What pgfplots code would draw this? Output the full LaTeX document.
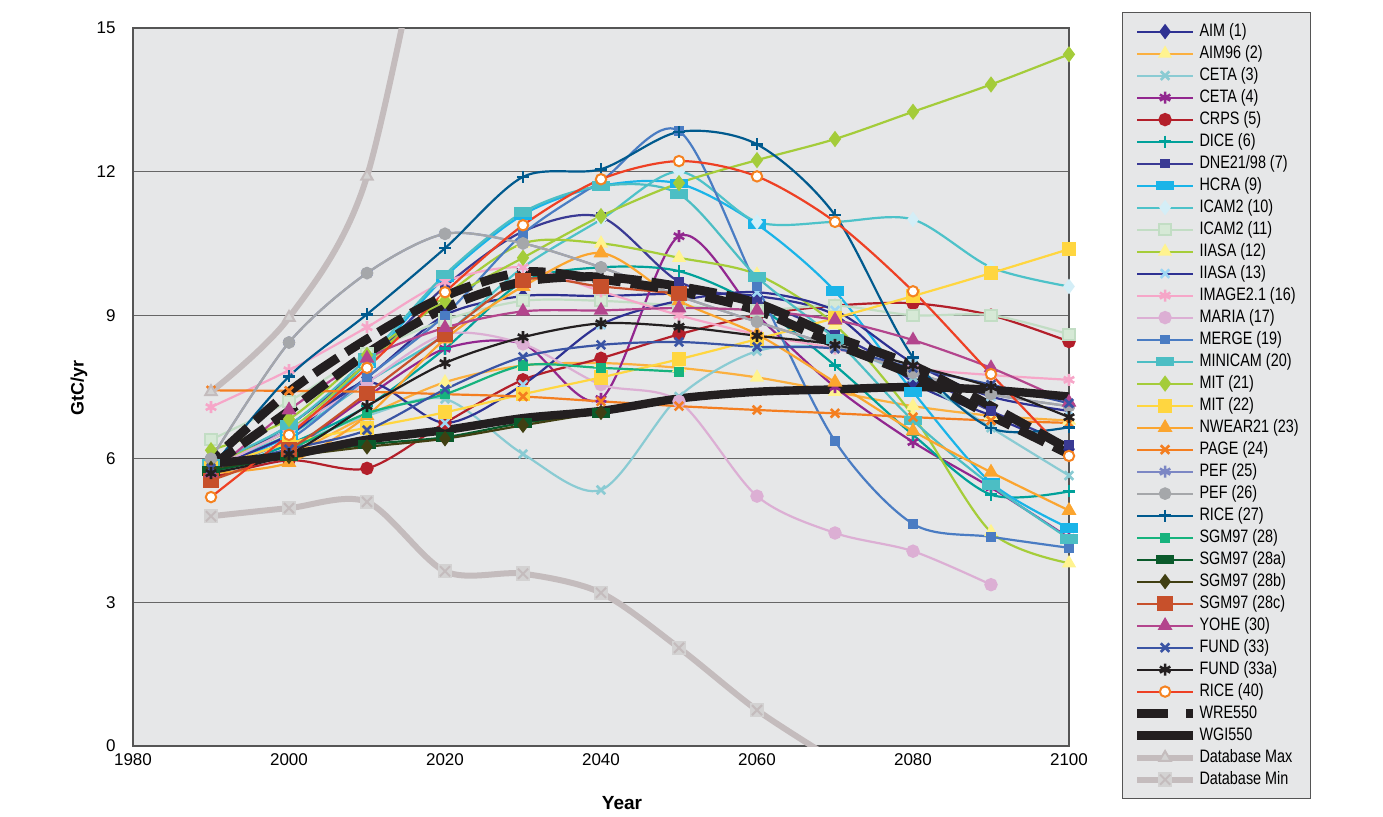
\documentclass[border=0pt]{standalone}
\usepackage{pgfplots}
\pgfplotsset{compat=1.18}
\usepackage{fontspec}
\setmainfont{Liberation Sans}
\newfontfamily\narrowfont[FakeStretch=0.8]{Liberation Sans}
\usetikzlibrary{plotmarks}

\definecolor{bgc}{HTML}{E6E7E8}
\definecolor{gridc}{HTML}{666666}
\definecolor{axc}{HTML}{555555}
\definecolor{cAIM}{HTML}{2E3192}
\definecolor{cAIM96}{HTML}{FBB040}
\definecolor{cPaleY}{HTML}{FFF38F}
\definecolor{cCETAa}{HTML}{8ACBD3}
\definecolor{cCETAb}{HTML}{92278F}
\definecolor{cCRPS}{HTML}{B31F2A}
\definecolor{cDICE}{HTML}{00A19A}
\definecolor{cDNE}{HTML}{3A3A94}
\definecolor{cHCRA}{HTML}{1AB4E8}
\definecolor{cICAMa}{HTML}{4DC2C9}
\definecolor{cICAMam}{HTML}{D4EEF7}
\definecolor{cICAMb}{HTML}{C2DDC4}
\definecolor{cICAMbm}{HTML}{D6E9D6}
\definecolor{cIIASAa}{HTML}{A5CD39}
\definecolor{cIIASAb}{HTML}{2E3192}
\definecolor{cIIASAbm}{HTML}{9DD6F4}
\definecolor{cIMAGE}{HTML}{F6A6C8}
\definecolor{cMARIA}{HTML}{DCAFD4}
\definecolor{cMERGE}{HTML}{4A7CC3}
\definecolor{cMINICAM}{HTML}{4CBEC4}
\definecolor{cMITa}{HTML}{A4CC3A}
\definecolor{cMITb}{HTML}{FFD640}
\definecolor{cNWEAR}{HTML}{FBA52F}
\definecolor{cPAGE}{HTML}{F47E20}
\definecolor{cPEFa}{HTML}{7C87C4}
\definecolor{cPEFb}{HTML}{A5A7AA}
\definecolor{cRICEa}{HTML}{005A8E}
\definecolor{cSGM}{HTML}{16B37D}
\definecolor{cSGMa}{HTML}{0A5A2B}
\definecolor{cSGMb}{HTML}{403F12}
\definecolor{cSGMc}{HTML}{C7502B}
\definecolor{cYOHE}{HTML}{B3458D}
\definecolor{cFUND}{HTML}{3A54A4}
\definecolor{cFUNDa}{HTML}{231F20}
\definecolor{cRICEb}{HTML}{EE4024}
\definecolor{cRICEbm}{HTML}{F58220}
\definecolor{cDB}{HTML}{C4BCBD}
\definecolor{cDBm}{HTML}{D3D2D2}

\pgfdeclareplotmark{sqx}{%
  \pgfpathrectangle{\pgfqpoint{-\pgfplotmarksize}{-\pgfplotmarksize}}{\pgfqpoint{2\pgfplotmarksize}{2\pgfplotmarksize}}%
  \pgfusepathqfill
  \pgfpathmoveto{\pgfqpoint{-.7\pgfplotmarksize}{-.7\pgfplotmarksize}}%
  \pgfpathlineto{\pgfqpoint{.7\pgfplotmarksize}{.7\pgfplotmarksize}}%
  \pgfpathmoveto{\pgfqpoint{-.7\pgfplotmarksize}{.7\pgfplotmarksize}}%
  \pgfpathlineto{\pgfqpoint{.7\pgfplotmarksize}{-.7\pgfplotmarksize}}%
  \pgfusepathqstroke}

\begin{document}
\begin{tikzpicture}
\path[use as bounding box] (0pt,0pt) rectangle (691.5pt,408pt);
\begin{axis}[
  at={(66.5pt,35pt)}, anchor=south west,
  width=468pt, height=359pt, scale only axis,
  xmin=1980, xmax=2100, ymin=0, ymax=15,
  xtick={1980,2000,...,2100}, ytick={0,3,...,15},
  /pgf/number format/assume math mode=true,
  xticklabel style={/pgf/number format/1000 sep={}, font=\fontsize{8.5}{10}\selectfont, anchor=north, inner sep=0pt, yshift=-3.5pt},
  yticklabel style={font=\fontsize{8.5}{10}\selectfont, anchor=east, inner sep=0pt, xshift=-8.5pt},
  major tick length=0pt,
  ymajorgrids, grid style={line width=0.6pt, color=gridc},
  axis background/.style={fill=bgc},
  axis line style={line width=0.7pt, color=axc},
  xlabel={Year}, ylabel={GtC/yr},
  xlabel style={font=\bfseries\fontsize{9.5}{11}\selectfont, at={(axis description cs:0.5224,-0.0794)}, anchor=center},
  ylabel style={font=\bfseries\fontsize{9}{11}\selectfont, at={(axis description cs:-0.0577,0.4986)}, anchor=center, rotate=0},
  every axis plot/.append style={smooth, line width=1.1pt, mark options={solid}},
  legend image code/.code={\draw[mark repeat=2,mark phase=2] plot coordinates {(0pt,0pt) (14pt,0pt) (28pt,0pt)};},
  legend cell align=left,
  legend style={at={(1.0566,1.0223)}, anchor=north west,
    fill=bgc, draw=axc, line width=0.6pt,
    font=\narrowfont\fontsize{9}{10}\selectfont,
    row sep=0pt, inner xsep=5pt, inner ysep=4pt,
    nodes={inner sep=1pt, text height=7pt, text depth=2pt}},
]
\addplot[color=cAIM, mark=diamond*, mark size=3pt] coordinates {(1990,5.9)(2000,6.6)(2010,7.7)(2020,9.0)(2030,9.4)(2040,9.4)(2050,9.45)(2060,9.4)(2070,9.0)(2080,7.6)(2090,6.9)(2100,6.2)};
\addlegendentry{AIM (1)}
\addplot[color=cAIM96, mark=triangle*, mark size=3pt, mark options={fill=cPaleY, draw=cPaleY}] coordinates {(1990,5.8)(2000,6.1)(2010,6.9)(2020,7.6)(2030,7.95)(2040,8.0)(2050,7.9)(2060,7.7)(2070,7.4)(2080,7.1)(2090,6.9)(2100,6.8)};
\addlegendentry{AIM96 (2)}
\addplot[color=cCETAa, mark=x, mark size=3pt, mark options={line width=1.3pt}] coordinates {(1990,6.0)(2000,6.3)(2010,6.9)(2020,7.25)(2030,6.1)(2040,5.35)(2050,7.3)(2060,8.25)(2070,8.3)(2080,7.7)(2090,6.65)(2100,5.65)};
\addlegendentry{CETA (3)}
\addplot[color=cCETAb, mark=asterisk, mark size=3pt, mark options={line width=1.3pt}] coordinates {(1990,5.8)(2000,6.2)(2010,7.3)(2020,8.3)(2030,8.4)(2040,7.25)(2050,10.65)(2060,9.0)(2070,7.5)(2080,6.35)(2090,5.4)(2100,4.35)};
\addlegendentry{CETA (4)}
\addplot[color=cCRPS, mark=*, mark size=2.8pt] coordinates {(1990,5.6)(2000,5.97)(2010,5.8)(2020,6.75)(2030,7.65)(2040,8.1)(2050,8.6)(2060,9.0)(2070,9.2)(2080,9.25)(2090,9.0)(2100,8.45)};
\addlegendentry{CRPS (5)}
\addplot[color=cDICE, mark=+, mark size=3pt, mark options={line width=1.3pt}] coordinates {(1990,5.7)(2000,6.3)(2010,7.1)(2020,8.3)(2030,9.7)(2040,10.0)(2050,9.92)(2060,9.2)(2070,7.95)(2080,6.5)(2090,5.25)(2100,5.32)};
\addlegendentry{DICE (6)}
\addplot[color=cDNE, mark=square*, mark size=1.8pt] coordinates {(1990,5.8)(2000,6.7)(2010,8.0)(2020,9.6)(2030,10.75)(2040,11.05)(2050,9.7)(2060,9.3)(2070,8.6)(2080,7.8)(2090,7.0)(2100,6.3)};
\addlegendentry{DNE21/98 (7)}
\addplot[color=cHCRA, mark=square*, mark size=2.5pt, mark options={xscale=1.5, yscale=0.75}] coordinates {(1990,5.8)(2000,6.5)(2010,8.0)(2020,9.8)(2030,11.1)(2040,11.7)(2050,11.75)(2060,10.9)(2070,9.5)(2080,7.4)(2090,5.5)(2100,4.55)};
\addlegendentry{HCRA (9)}
\addplot[color=cICAMa, mark=diamond*, mark size=3pt, mark options={fill=cICAMam, draw=cICAMam}] coordinates {(1990,5.9)(2000,6.5)(2010,7.6)(2020,8.6)(2030,10.0)(2040,11.0)(2050,12.0)(2060,10.95)(2070,10.95)(2080,11.0)(2090,10.0)(2100,9.6)};
\addlegendentry{ICAM2 (10)}
\addplot[color=cICAMb, mark=square*, mark size=2.8pt, mark options={fill=cICAMbm, draw=cICAMb, line width=1pt}] coordinates {(1990,6.4)(2000,7.2)(2010,8.2)(2020,8.9)(2030,9.3)(2040,9.3)(2050,9.2)(2060,9.1)(2070,9.2)(2080,9.0)(2090,9.0)(2100,8.6)};
\addlegendentry{ICAM2 (11)}
\addplot[color=cIIASAa, mark=triangle*, mark size=3pt, mark options={fill=cPaleY, draw=cPaleY}] coordinates {(1990,5.9)(2000,6.6)(2010,8.0)(2020,9.4)(2030,10.5)(2040,10.5)(2050,10.2)(2060,9.85)(2070,8.8)(2080,6.9)(2090,4.47)(2100,3.82)};
\addlegendentry{IIASA (12)}
\addplot[color=cIIASAb, mark=x, mark size=3pt, mark options={draw=cIIASAbm, line width=1.3pt}] coordinates {(1990,5.8)(2000,6.5)(2010,7.6)(2020,6.75)(2030,7.55)(2040,8.8)(2050,9.3)(2060,9.48)(2070,9.1)(2080,8.0)(2090,7.3)(2100,7.0)};
\addlegendentry{IIASA (13)}
\addplot[color=cIMAGE, mark=asterisk, mark size=3pt, mark options={line width=1.3pt}] coordinates {(1990,7.08)(2000,7.85)(2010,8.75)(2020,9.7)(2030,10.0)(2040,9.5)(2050,9.0)(2060,8.6)(2070,8.3)(2080,7.9)(2090,7.75)(2100,7.65)};
\addlegendentry{IMAGE2.1 (16)}
\addplot[color=cMARIA, mark=*, mark size=2.8pt] coordinates {(1990,5.8)(2000,6.6)(2010,7.6)(2020,8.6)(2030,8.4)(2040,7.55)(2050,7.2)(2060,5.22)(2070,4.45)(2080,4.07)(2090,3.37)};
\addlegendentry{MARIA (17)}
\addplot[color=cMERGE, mark=square*, mark size=1.8pt] coordinates {(1990,5.8)(2000,6.4)(2010,7.7)(2020,9.0)(2030,10.7)(2040,11.8)(2050,12.85)(2060,9.6)(2070,6.37)(2080,4.64)(2090,4.37)(2100,4.14)};
\addlegendentry{MERGE (19)}
\addplot[color=cMINICAM, mark=square*, mark size=2.5pt, mark options={xscale=1.5, yscale=0.75}] coordinates {(1990,5.9)(2000,6.7)(2010,8.1)(2020,9.85)(2030,11.15)(2040,11.7)(2050,11.53)(2060,9.8)(2070,8.5)(2080,6.8)(2090,5.45)(2100,4.33)};
\addlegendentry{MINICAM (20)}
\addplot[color=cMITa, mark=diamond*, mark size=3.2pt] coordinates {(1990,6.18)(2000,6.83)(2010,8.17)(2020,9.3)(2030,10.2)(2040,11.07)(2050,11.76)(2060,12.24)(2070,12.68)(2080,13.25)(2090,13.82)(2100,14.45)};
\addlegendentry{MIT (21)}
\addplot[color=cMITb, mark=square*, mark size=3pt] coordinates {(1990,5.8)(2000,6.33)(2010,6.65)(2020,6.97)(2030,7.35)(2040,7.7)(2050,8.08)(2060,8.5)(2070,8.94)(2080,9.4)(2090,9.88)(2100,10.38)};
\addlegendentry{MIT (22)}
\addplot[color=cNWEAR, mark=triangle*, mark size=3.2pt] coordinates {(1990,5.7)(2000,5.92)(2010,6.9)(2020,8.5)(2030,9.6)(2040,10.3)(2050,9.3)(2060,8.6)(2070,7.6)(2080,6.58)(2090,5.72)(2100,4.92)};
\addlegendentry{NWEAR21 (23)}
\addplot[color=cPAGE, mark=x, mark size=3pt, mark options={line width=1.3pt}] coordinates {(1990,7.43)(2000,7.42)(2010,7.4)(2020,7.35)(2030,7.3)(2040,7.2)(2050,7.1)(2060,7.02)(2070,6.95)(2080,6.87)(2090,6.8)(2100,6.75)};
\addlegendentry{PAGE (24)}
\addplot[color=cPEFa, mark=asterisk, mark size=3pt, mark options={line width=1.3pt}] coordinates {(1990,6.0)(2000,8.43)(2010,9.88)(2020,10.7)(2030,10.5)(2040,10.0)(2050,9.4)(2060,8.86)(2070,8.35)(2080,7.8)(2090,7.35)(2100,7.1)};
\addlegendentry{PEF (25)}
\addplot[color=cPEFb, mark=*, mark size=2.6pt] coordinates {(1990,6.0)(2000,8.43)(2010,9.88)(2020,10.7)(2030,10.5)(2040,10.0)(2050,9.4)(2060,8.86)(2070,8.35)(2080,7.8)(2090,7.35)(2100,7.1)};
\addlegendentry{PEF (26)}
\addplot[color=cRICEa, mark=+, mark size=3pt, mark options={line width=1.3pt}] coordinates {(1990,5.8)(2000,7.72)(2010,9.02)(2020,10.4)(2030,11.89)(2040,12.05)(2050,12.83)(2060,12.57)(2070,11.09)(2080,8.12)(2090,6.64)(2100,6.66)};
\addlegendentry{RICE (27)}
\addplot[color=cSGM, mark=square*, mark size=2pt] coordinates {(1990,5.7)(2000,6.2)(2010,6.95)(2020,7.35)(2030,7.95)(2040,7.9)(2050,7.82)};
\addlegendentry{SGM97 (28)}
\addplot[color=cSGMa, mark=square*, mark size=2.5pt, mark options={xscale=1.5, yscale=0.75}] coordinates {(1990,5.75)(2000,6.05)(2010,6.3)(2020,6.45)(2030,6.75)(2040,6.95)};
\addlegendentry{SGM97 (28a)}
\addplot[color=cSGMb, mark=diamond*, mark size=3pt] coordinates {(1990,5.8)(2000,6.05)(2010,6.25)(2020,6.42)(2030,6.7)(2040,6.97)};
\addlegendentry{SGM97 (28b)}
\addplot[color=cSGMc, mark=square*, mark size=3.3pt] coordinates {(1990,5.55)(2000,6.2)(2010,7.37)(2020,8.6)(2030,9.73)(2040,9.6)(2050,9.45)};
\addlegendentry{SGM97 (28c)}
\addplot[color=cYOHE, mark=triangle*, mark size=3.2pt] coordinates {(1990,5.7)(2000,7.02)(2010,8.1)(2020,8.74)(2030,9.08)(2040,9.1)(2050,9.15)(2060,9.1)(2070,8.9)(2080,8.48)(2090,7.9)(2100,7.18)};
\addlegendentry{YOHE (30)}
\addplot[color=cFUND, mark=x, mark size=3pt, mark options={line width=1.3pt}] coordinates {(1990,5.8)(2000,6.2)(2010,6.6)(2020,7.45)(2030,8.13)(2040,8.38)(2050,8.44)(2060,8.34)(2070,8.3)(2080,7.9)(2090,7.55)(2100,7.16)};
\addlegendentry{FUND (33)}
\addplot[color=cFUNDa, mark=asterisk, mark size=3pt, mark options={line width=1.3pt}] coordinates {(1990,5.7)(2000,6.1)(2010,7.1)(2020,8.0)(2030,8.54)(2040,8.83)(2050,8.76)(2060,8.57)(2070,8.38)(2080,7.95)(2090,7.5)(2100,6.87)};
\addlegendentry{FUND (33a)}
\addplot[color=cRICEb, mark=*, mark size=2.6pt, mark options={fill=white, draw=cRICEbm, line width=1pt}] coordinates {(1990,5.2)(2000,6.5)(2010,7.9)(2020,9.48)(2030,10.88)(2040,11.84)(2050,12.22)(2060,11.9)(2070,10.95)(2080,9.5)(2090,7.77)(2100,6.06)};
\addlegendentry{RICE (40)}
\addplot[color=cFUNDa, line width=4.5pt, dash pattern=on 14pt off 5pt, no markers,
  legend image code/.code={\draw[cFUNDa, line width=4.5pt, dash pattern=on 15.5pt off 9pt on 3.5pt off 20pt] (0pt,0pt) -- (28pt,0pt);}] coordinates {(1990,5.85)(2000,7.0)(2010,8.2)(2020,9.15)(2030,9.7)(2040,9.8)(2050,9.6)(2060,9.25)(2070,8.55)(2080,7.95)(2090,7.1)(2100,6.2)};
\addlegendentry{WRE550}
\addplot[forget plot, color=cFUNDa, line width=4.5pt, dash pattern=on 14pt off 5pt, dash phase=8pt, no markers] coordinates {(1990,5.95)(2000,7.4)(2010,8.5)(2020,9.4)(2030,9.9)(2040,9.75)(2050,9.5)(2060,9.1)(2070,8.4)(2080,7.75)(2090,6.9)(2100,6.1)};
\addplot[color=cFUNDa, line width=4.2pt, no markers] coordinates {(1990,5.9)(2000,6.08)(2010,6.4)(2020,6.6)(2030,6.85)(2040,7.0)(2050,7.26)(2060,7.4)(2070,7.45)(2080,7.5)(2090,7.44)(2100,7.3)};
\addlegendentry{WGI550}
\addplot[color=cDB, line width=3pt, mark=triangle*, mark size=3.3pt, mark options={fill=cDBm, draw=cDB, line width=1pt}] coordinates {(1990,7.4)(2000,8.95)(2010,11.9)(2020,19.5)};
\addlegendentry{Database Max}
\addplot[color=cDB, line width=3pt, mark=sqx, mark size=3.6pt, mark options={fill=cDBm, draw=cDB, line width=1pt}] coordinates {(1990,4.8)(2000,4.97)(2010,5.1)(2020,3.65)(2030,3.6)(2040,3.2)(2050,2.05)(2060,0.75)(2070,-0.3)};
\addlegendentry{Database Min}
\end{axis}
\end{tikzpicture}
\end{document}
